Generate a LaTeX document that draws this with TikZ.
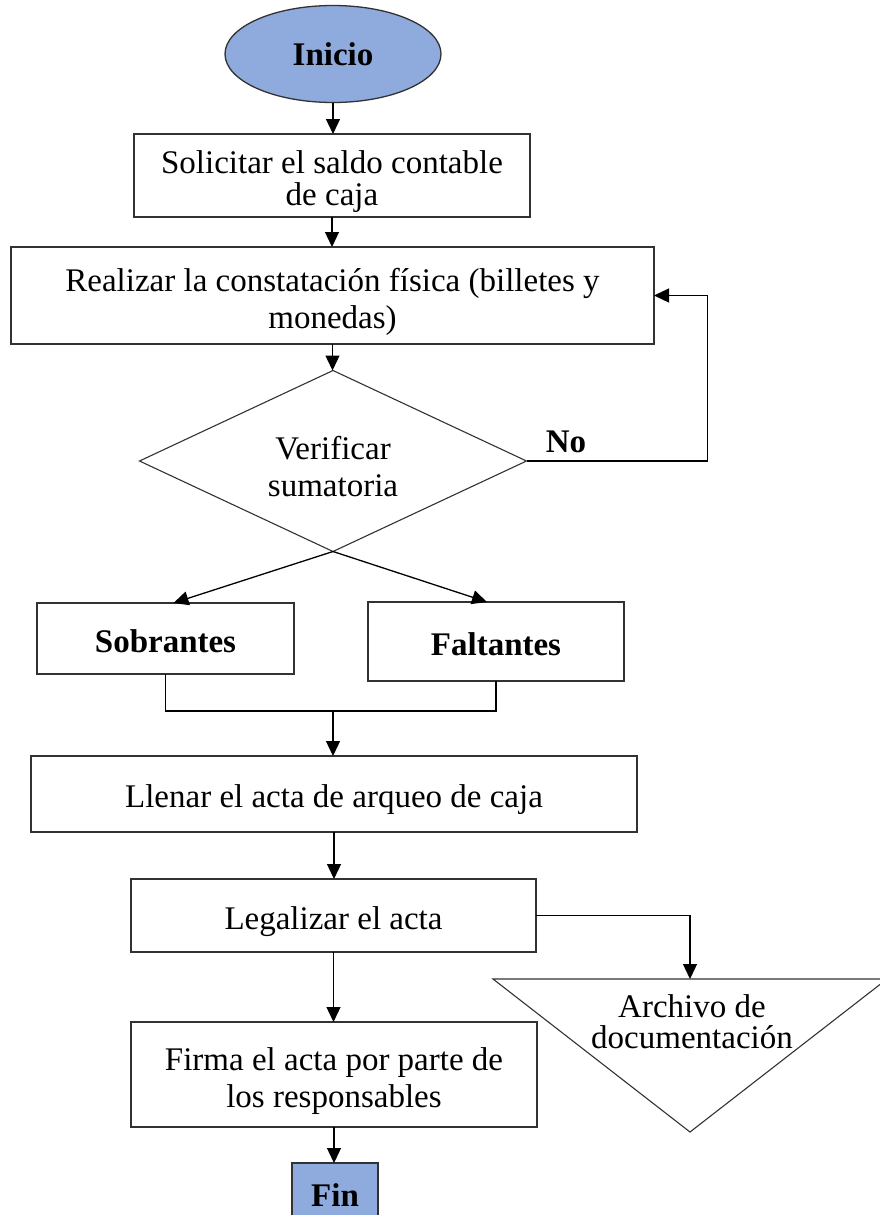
\documentclass[tikz,border=0pt]{standalone}
\usepackage{fontspec}
\setmainfont{Liberation Serif}
\usetikzlibrary{shapes.geometric,arrows.meta}
\definecolor{termfill}{RGB}{143,170,220}
\definecolor{edge}{RGB}{50,50,50}
% taller first line, which lowers the text a little inside its box
\newcommand\lowerstrut[1]{\rule{0pt}{#1}}
\begin{document}
\begin{tikzpicture}[x=1pt,y=-1pt,
  font=\fontsize{33}{37}\selectfont,
  every node/.style={inner sep=0pt, outer sep=0pt},
  proc/.style={draw=edge, line width=1.3pt, rectangle, fill=white, align=center},
  oneline/.style={proc, execute at begin node={\lowerstrut{35pt}}},
  boldproc/.style={proc, font=\fontsize{33}{37}\selectfont\bfseries,
    execute at begin node={\lowerstrut{29pt}}},
  term/.style={draw=edge, line width=1.3pt, fill=termfill, font=\fontsize{33}{37}\selectfont\bfseries},
  decision/.style={draw=edge, line width=1.1pt, diamond, aspect=2.14, align=center},
  arr/.style={line width=1.3pt, -{Triangle[length=15pt,width=14pt]}},
  link/.style={line width=1.3pt}]
\useasboundingbox (0,0) rectangle (879,1215);

% start / end terminals
\node[term, ellipse, minimum width=216, minimum height=97] (inicio) at (333,54) {Inicio};
\node[term, rectangle, minimum width=86, minimum height=65] (fin) at (335,1195.5) {Fin};

% process steps
\node[proc, minimum width=396, minimum height=83, font=\fontsize{33}{32}\selectfont] (sol) at (332,175.5)
  {\lowerstrut{35pt}Solicitar el saldo contable\\de caja};
\node[proc, minimum width=643, minimum height=97] (real) at (332.5,295.5)
  {\lowerstrut{36pt}Realizar la constatación física (billetes y\\monedas)};
\node[decision, minimum width=387, minimum height=181] (dia) at (333,461)
  {\lowerstrut{35pt}Verificar\\sumatoria};
\node[boldproc, minimum width=257, minimum height=71] (sob) at (165.5,638.5) {Sobrantes};
\node[boldproc, minimum width=256, minimum height=79] (fal) at (496,641.5) {Faltantes};
\node[oneline, minimum width=606, minimum height=76] (llen) at (334,794) {Llenar el acta de arqueo de caja};
\node[oneline, minimum width=405, minimum height=73] (leg) at (333.5,915.5) {Legalizar el acta};
\node[proc, minimum width=406, minimum height=105] (firma) at (334,1074.5)
  {\lowerstrut{35pt}Firma el acta por parte de\\los responsables};

% archive (inverted triangle)
\coordinate (archtop) at (690,979);
\coordinate (archL) at (493,979);
\coordinate (archR) at (887,979);
\coordinate (archB) at (690,1132);
\draw[draw=edge, line width=1.1pt] (archL) -- (archR) -- (archB) -- cycle;
\node[align=center, font=\fontsize{33}{31}\selectfont] (arch) at (692,1022) {Archivo de\\documentación};

% "No" label
\node[font=\fontsize{33}{37}\selectfont\bfseries] (no) at (566,442) {No};

% connectors
\draw[arr] (inicio.south) -- (inicio.south |- sol.north);
\draw[arr] (sol.south) -- (sol.south |- real.north);
\draw[arr] (real.south) -- (real.south |- dia.north);
\draw[arr] (dia.east) -- ++(181,0) |- (real.east);
\draw[arr] (dia.south) -- ([xshift=8]sob.north);
\draw[arr] (dia.south) -- ([xshift=-9]fal.north);
\coordinate (join) at (333,711);
\draw[link] (sob.south) |- (join) -| (fal.south);
\draw[arr] (join) -- (join |- llen.north);
\draw[arr] (llen.south) -- (llen.south |- leg.north);
\draw[arr] (leg.east) -| (archtop);
\draw[arr] (leg.south) -- (leg.south |- firma.north);
\draw[arr] (firma.south) -- (firma.south |- fin.north);
\end{tikzpicture}
\end{document}
